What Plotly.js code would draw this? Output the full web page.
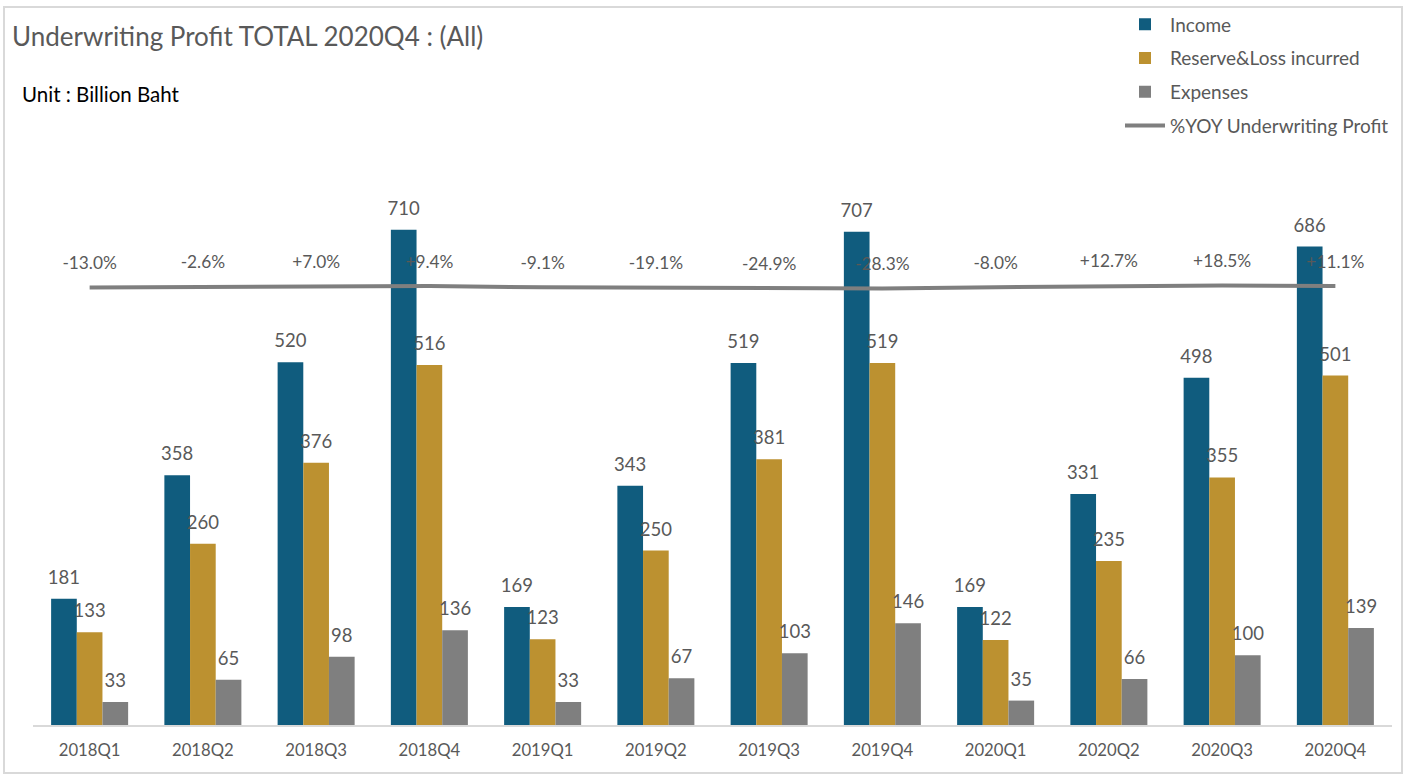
<!DOCTYPE html>
<html>
<head>
<meta charset="utf-8">
<script src="https://cdn.plot.ly/plotly-3.0.1.min.js"></script>
<style>
  html, body { margin: 0; padding: 0; background: #fff; }
  #wrap { position: relative; width: 1409px; height: 779px; }
  #chart { width: 1409px; height: 779px; }
  #frame { position: absolute; left: 3px; top: 6px; width: 1400px; height: 768px;
           border: 2px solid #D9D9D9; pointer-events: none; box-sizing: border-box; }
</style>
</head>
<body>
<div id="wrap"><div id="chart"></div><div id="frame"></div></div>
<script>
const quarters = ["2018Q1","2018Q2","2018Q3","2018Q4","2019Q1","2019Q2","2019Q3","2019Q4","2020Q1","2020Q2","2020Q3","2020Q4"];
const income   = [181, 358, 520, 710, 169, 343, 519, 707, 169, 331, 498, 686];
const reserve  = [133, 260, 376, 516, 123, 250, 381, 519, 122, 235, 355, 501];
const expenses = [33, 65, 98, 136, 33, 67, 103, 146, 35, 66, 100, 139];
const yoyPct   = [-13.0, -2.6, 7.0, 9.4, -9.1, -19.1, -24.9, -28.3, -8.0, 12.7, 18.5, 11.1];

const FONT = "Lato, 'Open Sans', sans-serif";
const GRAY_TXT = "#595959";

function barTrace(name, vals, color, grp) {
  return {
    type: "bar", name: name, x: quarters, y: vals,
    marker: { color: color },
    legendgroup: grp, hoverinfo: "x+y+name"
  };
}
function labelTrace(vals, grp) {
  return {
    type: "scatter", mode: "markers+text", x: quarters, y: vals,
    marker: { size: 15, color: "rgba(0,0,0,0)" },
    text: vals.map(v => String(v)),
    textposition: "top center",
    textfont: { family: FONT, size: 18.5, color: GRAY_TXT },
    cliponaxis: false, showlegend: false, legendgroup: grp, hoverinfo: "skip"
  };
}

const traces = [
  barTrace("Income", income, "#105C7E", "g1"),
  barTrace("Reserve&Loss incurred", reserve, "#BC9130", "g2"),
  barTrace("Expenses", expenses, "#7F7F7F", "g3"),
  labelTrace(income, "g1"),
  labelTrace(reserve, "g2"),
  labelTrace(expenses, "g3"),
  {
    type: "scatter", mode: "lines+markers+text", name: "%YOY Underwriting Profit",
    x: quarters, y: yoyPct, yaxis: "y2",
    line: { color: "#7F7F7F", width: 4 },
    marker: { size: 21, color: "rgba(0,0,0,0)" },
    text: yoyPct.map(v => (v > 0 ? "+" : "") + v.toFixed(1) + "%"),
    textposition: "top center",
    textfont: { family: FONT, size: 17.3, color: GRAY_TXT },
    cliponaxis: false,
    legendgroup: "g4"
  }
];

const layout = {
  width: 1409, height: 779,
  margin: { l: 33, r: 17, t: 190, b: 54, autoexpand: false },
  paper_bgcolor: "#fff", plot_bgcolor: "#fff",
  font: { family: FONT, color: GRAY_TXT },
  barmode: "group", bargap: 0.32, bargroupgap: 0,
  scattermode: "group", scattergap: 0.32,
  showlegend: true,
  title: {
    text: "Underwriting Profit TOTAL 2020Q4 : (All)",
    font: { family: FONT, size: 26, color: GRAY_TXT },
    xref: "container", yref: "container",
    x: 12 / 1409, xanchor: "left",
    y: 1 - 37 / 779, yanchor: "middle"
  },
  xaxis: {
    type: "category", range: [-0.5, 11.5], autorange: false,
    showline: true, linecolor: "#D9D9D9", linewidth: 2,
    showgrid: false, zeroline: false, ticks: "",
    ticklabelstandoff: 9,
    tickfont: { family: FONT, size: 16.7, color: GRAY_TXT },
    fixedrange: true
  },
  yaxis: { range: [0, 767], visible: false, showgrid: false, zeroline: false, fixedrange: true },
  yaxis2: { overlaying: "y", side: "right", range: [-7046, 1554], visible: false,
            showgrid: false, zeroline: false, fixedrange: true },
  legend: {
    x: (1120 - 33) / 1359, xanchor: "left",
    y: (725 - 5.5) / 535, yanchor: "top",
    traceorder: "grouped", tracegroupgap: 6,
    font: { family: FONT, size: 19, color: GRAY_TXT },
    bgcolor: "rgba(0,0,0,0)", itemwidth: 40
  },
  annotations: [{
    text: "Unit : Billion Baht", showarrow: false,
    xref: "paper", yref: "paper",
    x: (20 - 33) / 1359, xanchor: "left",
    y: (725 - 94) / 535, yanchor: "middle",
    font: { family: FONT, size: 20.5, color: "#000" }
  }]
};

Plotly.newPlot("chart", traces, layout, { displayModeBar: false, staticPlot: true });
</script>
</body>
</html>
